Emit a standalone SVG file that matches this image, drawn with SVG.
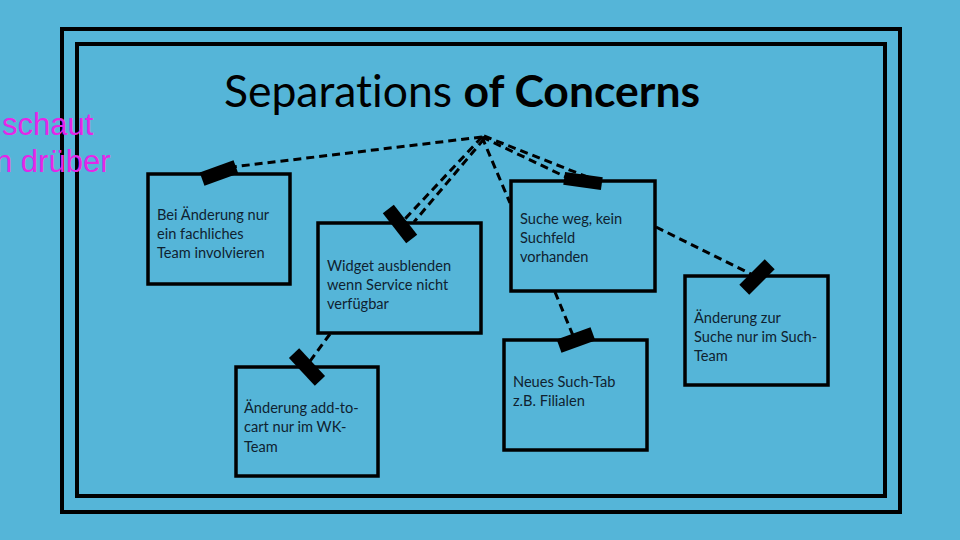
<svg xmlns="http://www.w3.org/2000/svg" width="960" height="540" viewBox="0 0 960 540">
<style>
.frame{fill:none;stroke:#000;stroke-width:4}
.box{fill:none;stroke:#000;stroke-width:3.5}
.t{font-family:Lato,"Open Sans",sans-serif;font-size:14.6px;fill:#0F2230}
.c{fill:none;stroke:#000;stroke-width:3;stroke-dasharray:8 5}
.tape{fill:#000}
.title{font-family:Lato,"Open Sans",sans-serif;font-size:44.5px;fill:#000;font-variant-ligatures:none}
.note{font-family:"Liberation Sans",Arial,sans-serif;font-size:31px;fill:#E526E8}
</style>
<rect width="960" height="540" fill="#55B5D8"/>
<rect class="frame" x="62" y="29" width="838" height="483"/>
<rect class="frame" x="77" y="44" width="808" height="452"/>
<text class="title" x="462" y="107" text-anchor="middle">Separations <tspan font-weight="bold">of Concerns</tspan></text>
<text class="note" x="2" y="135">schaut</text>
<text class="note" x="-5" y="172">n drüber</text>
<g id="connectors">
<line class="c" x1="482" y1="137" x2="232" y2="167"/>
<line class="c" x1="482" y1="137" x2="404" y2="220"/>
<line class="c" x1="484" y1="139" x2="414" y2="222"/>
<line class="c" x1="482" y1="137" x2="510" y2="203"/>
<line class="c" x1="482" y1="137" x2="568" y2="178"/>
<line class="c" x1="484" y1="136" x2="590" y2="178"/>
<line class="c" x1="656" y1="227" x2="755" y2="276"/>
<line class="c" x1="555" y1="292" x2="574" y2="338"/>
<line class="c" x1="330" y1="334" x2="308" y2="364"/>
</g>
<g id="node-a">
<rect class="box" x="148" y="174" width="142" height="110"/>
<text class="t" x="157" y="220">Bei Änderung nur</text>
<text class="t" x="157" y="239">ein fachliches</text>
<text class="t" x="157" y="258">Team involvieren</text>
<rect class="tape" x="-18" y="-7" width="36" height="14" transform="translate(219,173) rotate(-20)"/>
</g>
<g id="node-b">
<rect class="box" x="318" y="223" width="163" height="110"/>
<text class="t" x="327" y="271">Widget ausblenden</text>
<text class="t" x="327" y="290">wenn Service nicht</text>
<text class="t" x="327" y="309">verfügbar</text>
<rect class="tape" x="-19" y="-7" width="38" height="14" transform="translate(400,224) rotate(52)"/>
</g>
<g id="node-c">
<rect class="box" x="511" y="181" width="144" height="110"/>
<text class="t" x="520" y="224">Suche weg, kein</text>
<text class="t" x="520" y="243">Suchfeld</text>
<text class="t" x="520" y="262">vorhanden</text>
<rect class="tape" x="-19" y="-6.5" width="38" height="13" transform="translate(583,181) rotate(8)"/>
</g>
<g id="node-d">
<rect class="box" x="236" y="367" width="142" height="109"/>
<text class="t" x="244" y="413">Änderung add-to-</text>
<text class="t" x="244" y="432">cart nur im WK-</text>
<text class="t" x="244" y="452">Team</text>
<rect class="tape" x="-19" y="-7" width="38" height="14" transform="translate(307,367) rotate(47)"/>
</g>
<g id="node-e">
<rect class="box" x="504" y="340" width="143" height="110"/>
<text class="t" x="513" y="387">Neues Such-Tab</text>
<text class="t" x="513" y="406">z.B. Filialen</text>
<rect class="tape" x="-18" y="-7" width="36" height="14" transform="translate(576,340) rotate(-20)"/>
</g>
<g id="node-f">
<rect class="box" x="685" y="276" width="143" height="109"/>
<text class="t" x="694" y="323">Änderung zur</text>
<text class="t" x="694" y="342">Suche nur im Such-</text>
<text class="t" x="694" y="361">Team</text>
<rect class="tape" x="-18" y="-7" width="36" height="14" transform="translate(757,277) rotate(-45)"/>
</g>
</svg>
